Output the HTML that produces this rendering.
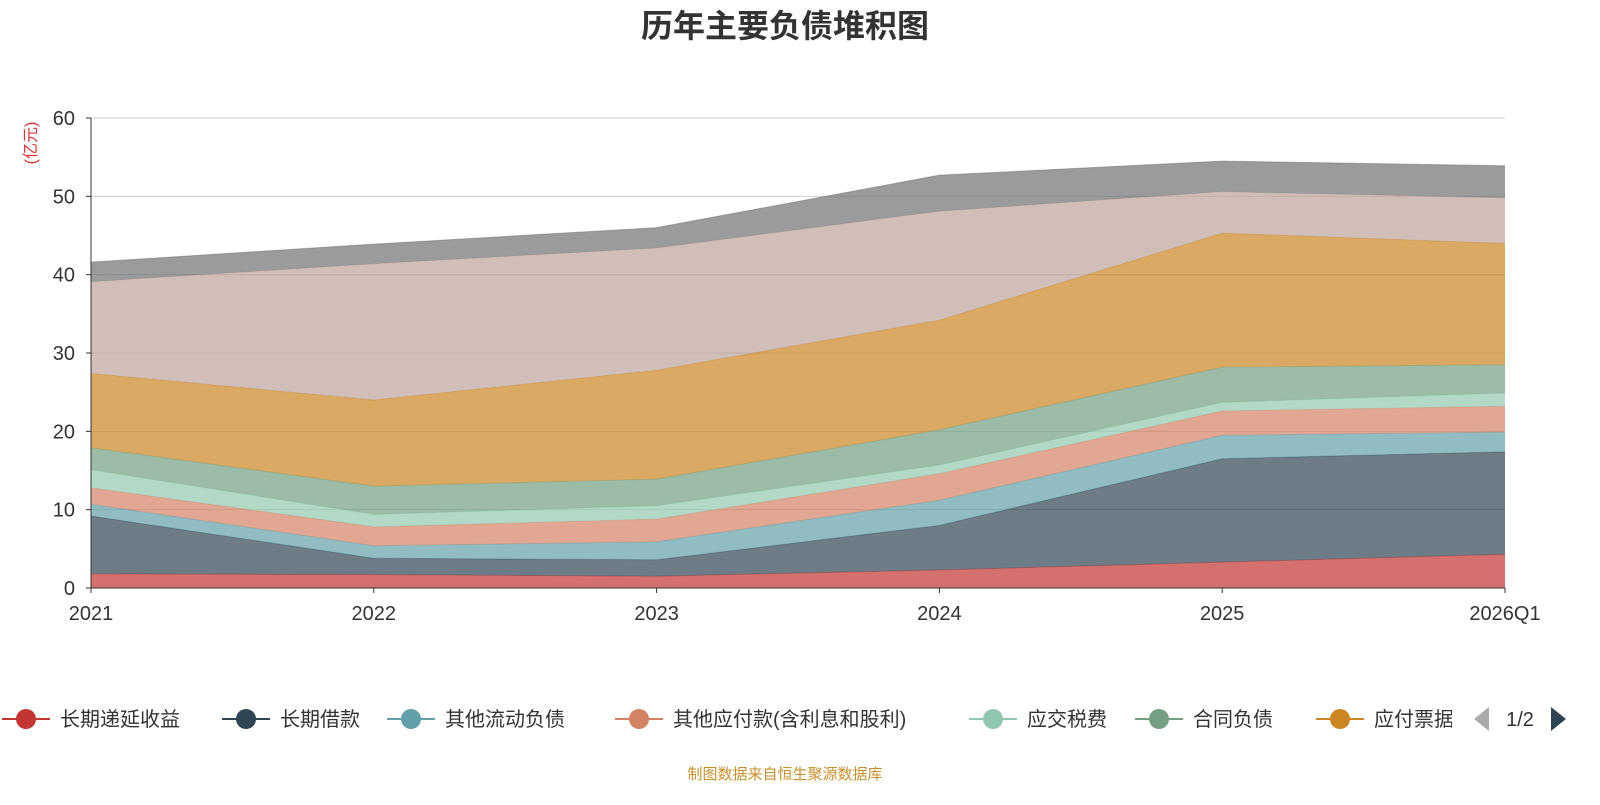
<!DOCTYPE html>
<html><head><meta charset="utf-8"><style>
body{margin:0;background:#fff;font-family:"Liberation Sans","Noto Sans CJK SC",sans-serif;}
svg text{font-family:"Liberation Sans","Noto Sans CJK SC",sans-serif;}
</style></head><body>
<svg id="c" width="1600" height="800">
<text x="785" y="37" text-anchor="middle" font-size="32" font-weight="bold" fill="#333">历年主要负债堆积图</text>
<text transform="translate(36,143) rotate(-90)" text-anchor="middle" font-size="16" fill="#e03030">(亿元)</text>
<g id="grid"></g><g id="areas"></g><g id="axes"></g><g id="legend"></g>
<text x="785" y="779" text-anchor="middle" font-size="15" fill="#c8902a">制图数据来自恒生聚源数据库</text>
</svg>
<script>
const categories=["2021","2022","2023","2024","2025","2026Q1"];
const seriesNames=["长期递延收益","长期借款","其他流动负债","其他应付款(含利息和股利)","应交税费","合同负债","应付票据","应付账款","其他"];
const sRed=[1.8,1.7,1.5,2.3,3.3,4.3];
const sDark=[7.4,2.1,2.1,5.7,13.2,13.1];
const sTeal=[1.5,1.6,2.3,3.2,3.0,2.5];
const sSalmon=[2.1,2.4,2.9,3.4,3.1,3.3];
const sLightGreen=[2.3,1.6,1.7,1.1,1.1,1.7];
const sGreen=[2.8,3.6,3.4,4.5,4.5,3.6];
const sOrange=[9.5,11.0,13.9,14.0,17.1,15.5];
const sBeige=[11.7,17.4,15.6,13.9,5.3,5.8];
const sGrey=[2.5,2.5,2.6,4.6,3.9,4.1];
const yTicks=[0,10,20,30,40,50,60];
const series=[sRed,sDark,sTeal,sSalmon,sLightGreen,sGreen,sOrange,sBeige,sGrey];
const colors=["#c23531","#2f4554","#61a0a8","#d48265","#91c7ae","#749f83","#ca8622","#bda29a","#6e7074"];
const NS="http://www.w3.org/2000/svg";
const x0=91,x1=1505,yb=588,yt=118;
const X=i=>x0+(x1-x0)*i/(categories.length-1);
const Y=v=>yb-(yb-yt)*v/60;
function mk(t,a,p){const e=document.createElementNS(NS,t);for(const k in a)e.setAttribute(k,a[k]);p.appendChild(e);return e;}
const grid=document.getElementById('grid'),areas=document.getElementById('areas'),axes=document.getElementById('axes'),legend=document.getElementById('legend');
yTicks.forEach(v=>{
 if(v>0){const l=mk('line',{x1:x0,x2:x1,y1:Y(v),y2:Y(v),stroke:'#ccc','stroke-width':1},grid);
 
 }
 const t=mk('text',{x:x0-16,y:Y(v)+7,'text-anchor':'end','font-size':20,fill:'#333'},axes);t.textContent=v;
 
 
 mk('line',{x1:x0-5,x2:x0,y1:Y(v),y2:Y(v),stroke:'#333'},axes);
});
let base=categories.map(()=>0);
series.forEach((s,si)=>{
 const top=base.map((b,i)=>b+s[i]);
 let d='M'+top.map((v,i)=>X(i)+','+Y(v)).join('L');
 for(let i=categories.length-1;i>=0;i--)d+='L'+X(i)+','+Y(base[i]);
 const p=mk('path',{d:d+'Z',fill:colors[si],'fill-opacity':0.7,stroke:'none'},areas);
 
 
 const ln=mk('path',{d:'M'+top.map((v,i)=>X(i)+','+Y(v)).join('L'),fill:'none',stroke:colors[si],'stroke-opacity':0.5,'stroke-width':1},areas);
 
 
 base=top;
});
mk('line',{x1:x0,x2:x0,y1:yt,y2:yb,stroke:'#333'},axes);
mk('line',{x1:x0,x2:x1,y1:yb,y2:yb,stroke:'#333'},axes);
categories.forEach((c,i)=>{
 mk('line',{x1:X(i),x2:X(i),y1:yb,y2:yb+5,stroke:'#333'},axes);
 const t=mk('text',{x:X(i),y:620,'text-anchor':i==categories.length-1?'middle':'middle','font-size':20,fill:'#333'},axes);t.textContent=c;
 
 
});
const lx=[26,246,411,639,993,1159,1340];
const clip=mk('clipPath',{id:'lc'},legend);mk('rect',{x:0,y:690,width:1452,height:60},clip);
const lg=mk('g',{'clip-path':'url(#lc)'},legend);
lx.forEach((x,i)=>{
 const g=mk('g',{},lg);
 
 
 mk('line',{x1:x-24,x2:x+24,y1:719,y2:719,stroke:colors[i],'stroke-width':2},g);
 mk('circle',{cx:x,cy:719,r:10,fill:colors[i]},g);
 const t=mk('text',{x:x+34,y:726,'font-size':20,fill:'#333'},g);t.textContent=seriesNames[i];
});
const pa=mk('path',{d:'M1489,707L1474,719L1489,731Z',fill:'#aaa'},legend);


const pt=mk('text',{x:1520,y:726,'text-anchor':'middle','font-size':20,fill:'#333'},legend);pt.textContent='1/2';


const na=mk('path',{d:'M1551,707L1566,719L1551,731Z',fill:'#2f4554'},legend);


</script>
</body></html>
